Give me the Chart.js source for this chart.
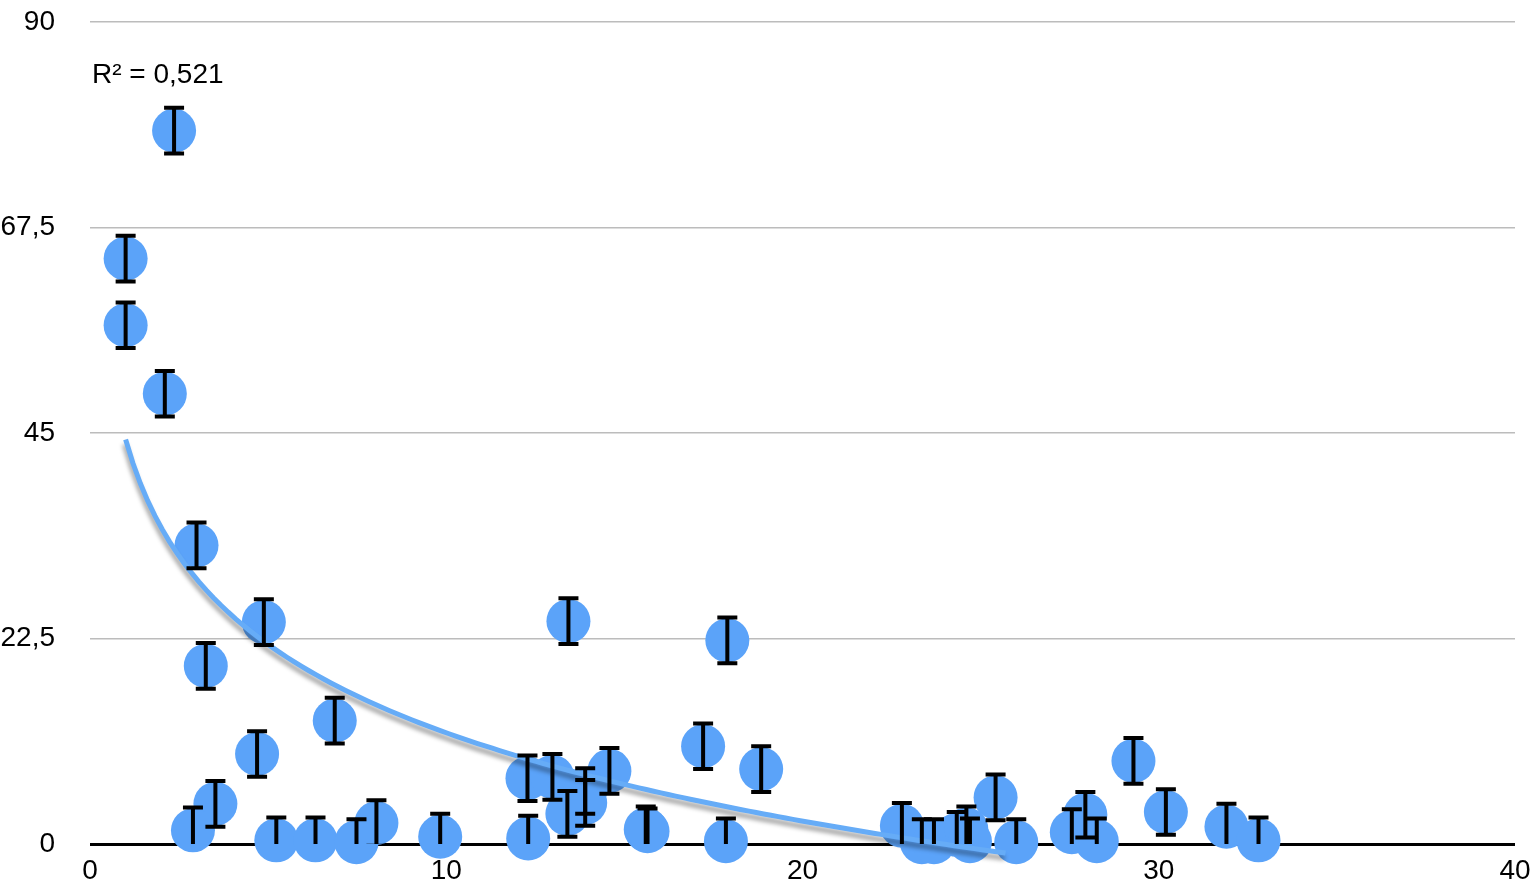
<!DOCTYPE html>
<html>
<head>
<meta charset="utf-8">
<script src="https://cdn.jsdelivr.net/npm/chart.js@4/dist/chart.umd.min.js"></script>
<style>
  body { margin: 0; background: #fff; }
  canvas { display: block; }
</style>
</head>
<body>
<canvas id="chart" width="1537" height="887"></canvas>
<script>
// Measured points (x, y) and error bar half-lengths
const xValues = [2.36, 1.0, 1.0, 2.1, 2.99, 4.88, 3.25, 6.87, 4.69, 3.52, 2.89, 5.23, 6.33, 7.48, 8.04,
  9.83, 12.3, 12.28, 12.98, 13.43, 13.4, 13.9, 13.9, 14.58, 15.6, 15.65, 17.21, 17.89, 17.85, 18.84,
  22.79, 23.35, 23.69, 24.33, 24.6, 24.7, 25.42, 26.0, 27.56, 27.94, 28.26, 29.29, 30.2, 31.9, 32.8];
const yValues = [78.1, 64.1, 56.8, 49.3, 32.7, 24.3, 19.5, 13.5, 9.85, 4.4, 1.5, 0.4, 0.4, 0.2, 2.3,
  0.8, 0.6, 7.2, 7.35, 24.4, 3.3, 5.8, 4.5, 8.0, 1.6, 1.4, 10.7, 22.3, 0.3, 8.2,
  2.0, 0.2, 0.2, 1.0, 1.6, 0.3, 5.1, 0.2, 1.3, 3.2, 0.3, 9.1, 3.5, 1.9, 0.4];
const errValues = xValues.map(() => 2.5);

// Logarithmic trend line y = a*ln(x) + b
const trendA = -13.95;
const trendB = 44.3;
const trendStart = 1.0;
const trendEnd = 25.7;
const rSquaredLabel = 'R² = 0,521';

const yTicks = [0, 22.5, 45, 67.5, 90];
const xTicks = [0, 10, 20, 30, 40];

const FONT = '"Liberation Sans", Arial, Helvetica, sans-serif';

const trendPoints = [];
for (let i = 0; i <= 120; i++) {
  const xv = trendStart + (trendEnd - trendStart) * i / 120;
  trendPoints.push({ x: xv, y: trendA * Math.log(xv) + trendB });
}

const trendShadow = {
  id: 'trendShadow',
  beforeDatasetDraw(chart, args) {
    if (args.index !== 1) return;
    const ctx = chart.ctx;
    ctx.save();
    ctx.shadowColor = 'rgba(0,0,0,0.35)';
    ctx.shadowBlur = 4;
    ctx.shadowOffsetX = -1;
    ctx.shadowOffsetY = 5;
  },
  afterDatasetDraw(chart, args) {
    if (args.index !== 1) return;
    chart.ctx.restore();
  }
};

const errorBars = {
  id: 'errorBars',
  afterDatasetsDraw(chart) {
    const { ctx, chartArea, scales: { x, y } } = chart;
    ctx.save();
    ctx.beginPath();
    ctx.rect(chartArea.left, chartArea.top - 5, chartArea.right - chartArea.left, chartArea.bottom - chartArea.top + 5);
    ctx.clip();
    ctx.strokeStyle = '#000';
    ctx.lineWidth = 4;
    const cap = 10;
    xValues.forEach((xv, i) => {
      const px = x.getPixelForValue(xv);
      const top = y.getPixelForValue(yValues[i] + errValues[i]);
      const bot = y.getPixelForValue(yValues[i] - errValues[i]);
      ctx.beginPath();
      ctx.moveTo(px, top);
      ctx.lineTo(px, bot);
      ctx.moveTo(px - cap, top);
      ctx.lineTo(px + cap, top);
      ctx.moveTo(px - cap, bot);
      ctx.lineTo(px + cap, bot);
      ctx.stroke();
    });
    ctx.restore();
  },
  afterDraw(chart) {
    const { ctx, chartArea } = chart;
    ctx.save();
    ctx.font = '28px ' + FONT;
    ctx.fillStyle = '#000';
    ctx.textBaseline = 'middle';
    ctx.fillText(rSquaredLabel, chartArea.left + 2, chartArea.top + 53);
    ctx.restore();
  }
};

new Chart(document.getElementById('chart'), {
  type: 'scatter',
  data: {
    datasets: [{
      type: 'scatter',
      data: xValues.map((xv, i) => ({ x: xv, y: yValues[i] })),
      backgroundColor: '#5ba3f9',
      borderWidth: 0,
      pointRadius: 22,
      pointHoverRadius: 22,
      clip: false,
      order: 2
    }, {
      type: 'line',
      data: trendPoints,
      borderColor: '#66acf7',
      borderWidth: 5,
      pointRadius: 0,
      fill: false,
      tension: 0,
      clip: false,
      order: 1
    }]
  },
  options: {
    responsive: false,
    animation: false,
    events: [],
    layout: { padding: { top: 17, right: 19, bottom: 0, left: 0 } },
    plugins: {
      legend: { display: false },
      tooltip: { enabled: false }
    },
    scales: {
      x: {
        type: 'linear',
        min: 0,
        max: 40,
        afterBuildTicks: (scale) => { scale.ticks = xTicks.map(v => ({ value: v })); },
        afterFit: (scale) => {
          scale.height = 43;
          scale.paddingLeft = 0;
          scale.paddingRight = 0;
        },
        grid: { display: false, drawTicks: false },
        border: { display: false },
        ticks: {
          padding: 10,
          color: '#000',
          font: { family: FONT, size: 28 },
          maxRotation: 0
        }
      },
      y: {
        min: 0,
        max: 90,
        afterBuildTicks: (scale) => { scale.ticks = yTicks.map(v => ({ value: v })); },
        afterFit: (scale) => {
          scale.width = 90;
          scale.paddingTop = 0;
          scale.paddingBottom = 0;
        },
        grid: {
          drawTicks: false,
          color: (c) => c.tick && c.tick.value === 0 ? '#000' : '#bcbcbc',
          lineWidth: (c) => c.tick && c.tick.value === 0 ? 3 : 1.5
        },
        border: { display: false },
        ticks: {
          padding: 35,
          color: '#000',
          font: { family: FONT, size: 28, lineHeight: 1 },
          callback: (v) => String(v).replace('.', ',')
        }
      }
    }
  },
  plugins: [trendShadow, errorBars]
});
</script>
</body>
</html>
